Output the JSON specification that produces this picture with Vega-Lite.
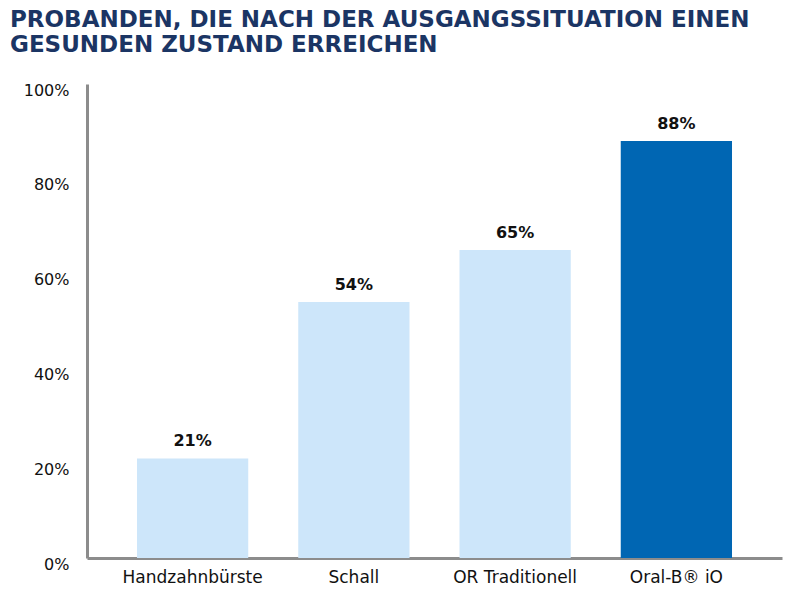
{
  "$schema": "https://vega.github.io/schema/vega-lite/v6.json",
  "width": 695,
  "height": 474,
  "autosize": {"type": "none"},
  "padding": {"left": 87, "top": 84, "right": 18, "bottom": 42},
  "background": "white",
  "view": {"stroke": null},
  "title": {
    "text": ["PROBANDEN, DIE NACH DER AUSGANGSSITUATION EINEN", "GESUNDEN ZUSTAND ERREICHEN"],
    "anchor": "start",
    "frame": "group",
    "dx": -77,
    "offset": 25,
    "font": "DejaVu Sans",
    "fontSize": 23,
    "fontWeight": "bold",
    "color": "#1b3564",
    "lineHeight": 25
  },
  "data": {
    "values": [
      {"gruppe": "Handzahnbürste", "anteil": 0.21, "marke": "andere"},
      {"gruppe": "Schall", "anteil": 0.54, "marke": "andere"},
      {"gruppe": "OR Traditionell", "anteil": 0.65, "marke": "andere"},
      {"gruppe": "Oral-B® iO", "anteil": 0.88, "marke": "iO"}
    ]
  },
  "encoding": {
    "x": {
      "field": "gruppe",
      "type": "nominal",
      "sort": null,
      "title": null,
      "scale": {"paddingInner": 0.31, "paddingOuter": 0.31},
      "axis": {
        "labelAngle": 0,
        "labelFont": "DejaVu Sans",
        "labelFontSize": 17,
        "labelColor": "#111111",
        "labelPadding": 11,
        "ticks": false,
        "domainColor": "#8c8c8c",
        "domainWidth": 3
      }
    },
    "y": {
      "field": "anteil",
      "type": "quantitative",
      "title": null,
      "scale": {"domain": [0, 1]},
      "axis": {
        "values": [0, 0.2, 0.4, 0.6, 0.8, 1],
        "format": ".0%",
        "grid": false,
        "ticks": false,
        "labelFont": "DejaVu Sans",
        "labelFontSize": 16,
        "labelColor": "#111111",
        "labelPadding": 18,
        "labelOffset": 6,
        "domainColor": "#8c8c8c",
        "domainWidth": 3
      }
    }
  },
  "layer": [
    {
      "mark": {"type": "bar"},
      "encoding": {
        "color": {
          "field": "marke",
          "type": "nominal",
          "scale": {"domain": ["andere", "iO"], "range": ["#cde6fa", "#0066b3"]},
          "legend": null
        }
      }
    },
    {
      "mark": {
        "type": "text",
        "baseline": "bottom",
        "dy": -9,
        "font": "DejaVu Sans",
        "fontSize": 16,
        "fontWeight": "bold",
        "color": "#111111"
      },
      "encoding": {
        "text": {"field": "anteil", "type": "quantitative", "format": ".0%"}
      }
    }
  ]
}
